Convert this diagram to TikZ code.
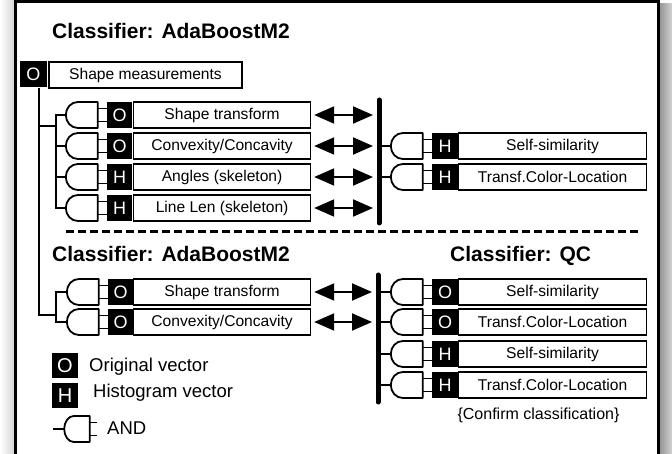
\documentclass[tikz,border=0pt]{standalone}
\usepackage{fontspec}
\setmainfont{Liberation Sans}
\usetikzlibrary{arrows.meta}
\begin{document}
\begin{tikzpicture}[x=1pt,y=-1pt,
  wire/.style={line width=2pt},
  tag/.style={fill=black,text=white,minimum width=26pt,minimum height=26pt,inner sep=0pt,
    font=\fontsize{18}{20}\selectfont},
  lblbox/.style={draw,line width=1.2pt,minimum height=26pt,inner sep=0pt,
    font=\fontsize{15.6}{18}\selectfont},
  leftbox/.style={lblbox,minimum width=177pt,anchor=west},
  rightbox/.style={lblbox,minimum width=188pt,anchor=west},
  dbl/.style={line width=2pt,shorten <=3pt,shorten >=6pt,
    {Triangle[length=20pt,width=17pt]}-{Triangle[length=20pt,width=17pt]}},
  bus/.style={line width=5pt,line cap=round},
  title/.style={font=\fontsize{21}{24}\selectfont\bfseries,anchor=base west,inner sep=0pt},
  legtext/.style={font=\fontsize{18.5}{20}\selectfont,anchor=west,inner sep=0pt},
  andgate/.pic={
    \draw[line width=1.8pt,line join=round] (-9,-13) -- (-29,-13)
      arc[start angle=270,end angle=90,x radius=12,y radius=13] -- (-9,13) -- cycle;
    \draw[line width=1.8pt] (-9,-6.5) -- (0,-6.5) (-9,6.5) -- (0,6.5);
    \coordinate (-out) at (-41,0);
  }
]
\useasboundingbox (0,0) rectangle (672,454);

% window frame with its drop shadow
\begin{scope}
  \clip (0,0) rectangle (672,454);
  \shade[left color=white,right color=gray!35] (0,0) rectangle (15,454);
  \shade[left color=gray!85,right color=gray!35] (659,4) rectangle (672,454);
  \draw[line width=3pt,fill=white] (15,1.5) rectangle (658.5,470);
\end{scope}

% ---------- upper classifier ----------
\node[title] (ttlA) at (52,39) {Classifier: AdaBoostM2};

\node[tag,minimum width=27pt] (tagM) at (33.5,74.5) {O};
\node[lblbox,minimum width=193pt] (boxM) at (145.5,75) {Shape measurements};

\node[tag,minimum width=25pt] (tA1) at (119.5,115) {O};
\node[leftbox] (bA1) at (133,115) {Shape transform};
\node[tag,minimum width=25pt] (tA2) at (119.5,146) {O};
\node[leftbox] (bA2) at (133,146) {Convexity/Concavity};
\node[tag,minimum width=25pt] (tA3) at (119.5,177) {H};
\node[leftbox] (bA3) at (133,177) {Angles (skeleton)};
\node[tag,minimum width=25pt] (tA4) at (119.5,208) {H};
\node[leftbox] (bA4) at (133,208) {Line Len (skeleton)};

\pic (gA1) at (tA1.west) {andgate};
\pic (gA2) at (tA2.west) {andgate};
\pic (gA3) at (tA3.west) {andgate};
\pic (gA4) at (tA4.west) {andgate};

% trunk from the shape measurements and the two brackets it feeds
\coordinate (trunk) at (39,0);
\coordinate (brA) at (56,0);
\coordinate (jA) at (56,126);
\coordinate (jB) at (56,315);
\draw[wire] (tagM.south -| trunk) -- (trunk |- jB) -- (jB);
\draw[wire] (trunk |- jA) -- (jA);
\draw[wire] (gA1-out) -- (gA1-out -| brA) -- (gA4-out -| brA) -- (gA4-out);
\draw[wire] (gA2-out) -- (gA2-out -| brA);
\draw[wire] (gA3-out) -- (gA3-out -| brA);

% upper bus
\coordinate (busA1) at (379,100);
\coordinate (busA2) at (379,223);
\draw[bus] (busA1) -- (busA2);
\draw[dbl] (bA1.east) -- (bA1.east -| busA1);
\draw[dbl] (bA2.east) -- (bA2.east -| busA1);
\draw[dbl] (bA3.east) -- (bA3.east -| busA1);
\draw[dbl] (bA4.east) -- (bA4.east -| busA1);

\node[tag] (tB1) at (445,146) {H};
\node[rightbox] (bB1) at (458,146) {Self-similarity};
\node[tag] (tB2) at (445,177) {H};
\node[rightbox] (bB2) at (458,177) {Transf.Color-Location};
\pic (gB1) at (tB1.west) {andgate};
\pic (gB2) at (tB2.west) {andgate};
\draw[wire] (gB1-out -| busA1) -- (gB1-out);
\draw[wire] (gB2-out -| busA1) -- (gB2-out);

% separator
\coordinate (dashL) at (66,232);
\coordinate (dashR) at (638,232);
\draw[line width=3pt,dash pattern=on 8pt off 4pt] (dashL) -- (dashR);

% ---------- lower classifiers ----------
\node[title] (ttlB) at (52,262) {Classifier: AdaBoostM2};
\node[title] (ttlC) at (450,262) {Classifier: QC};

\node[tag,minimum width=25pt] (tC1) at (120.5,292) {O};
\node[leftbox] (bC1) at (133,292) {Shape transform};
\node[tag,minimum width=25pt] (tC2) at (120.5,322) {O};
\node[leftbox] (bC2) at (133,322) {Convexity/Concavity};
\pic (gC1) at (tC1.west) {andgate};
\pic (gC2) at (tC2.west) {andgate};
\draw[wire] (gC1-out) -- (gC1-out -| brA) -- (gC2-out -| brA) -- (gC2-out);

\coordinate (busB1) at (378,275);
\coordinate (busB2) at (378,402);
\draw[bus] (busB1) -- (busB2);
\draw[dbl] (bC1.east) -- (bC1.east -| busB1);
\draw[dbl] (bC2.east) -- (bC2.east -| busB1);

\node[tag] (tD1) at (445,292) {O};
\node[rightbox] (bD1) at (458,292) {Self-similarity};
\node[tag] (tD2) at (445,322) {O};
\node[rightbox] (bD2) at (458,322) {Transf.Color-Location};
\node[tag] (tD3) at (445,354) {H};
\node[rightbox] (bD3) at (458,354) {Self-similarity};
\node[tag] (tD4) at (445,385) {H};
\node[rightbox] (bD4) at (458,385) {Transf.Color-Location};
\pic (gD1) at (tD1.west) {andgate};
\pic (gD2) at (tD2.west) {andgate};
\pic (gD3) at (tD3.west) {andgate};
\pic (gD4) at (tD4.west) {andgate};
\draw[wire] (gD1-out -| busB1) -- (gD1-out);
\draw[wire] (gD2-out -| busB1) -- (gD2-out);
\draw[wire] (gD3-out -| busB1) -- (gD3-out);
\draw[wire] (gD4-out -| busB1) -- (gD4-out);

\node[font=\fontsize{16}{18}\selectfont,inner sep=0pt] (confirm) at (538.5,415) {\{Confirm classification\}};

% ---------- legend ----------
\node[tag,minimum height=25pt,font=\fontsize{20}{22}\selectfont] (legO) at (65,365.5) {O};
\node[legtext] (legOtxt) at (89,367) {Original vector};
\node[tag,minimum height=25pt,font=\fontsize{20}{22}\selectfont] (legH) at (65,395.5) {H};
\node[legtext] (legHtxt) at (93,393) {Histogram vector};
\pic[xscale=0.8] (gL) at (97,429) {andgate};
\coordinate (legIn) at (53,429);
\draw[wire] (legIn) -- (gL-out);
\node[legtext] (legAnd) at (107,428) {AND};

\end{tikzpicture}
\end{document}
